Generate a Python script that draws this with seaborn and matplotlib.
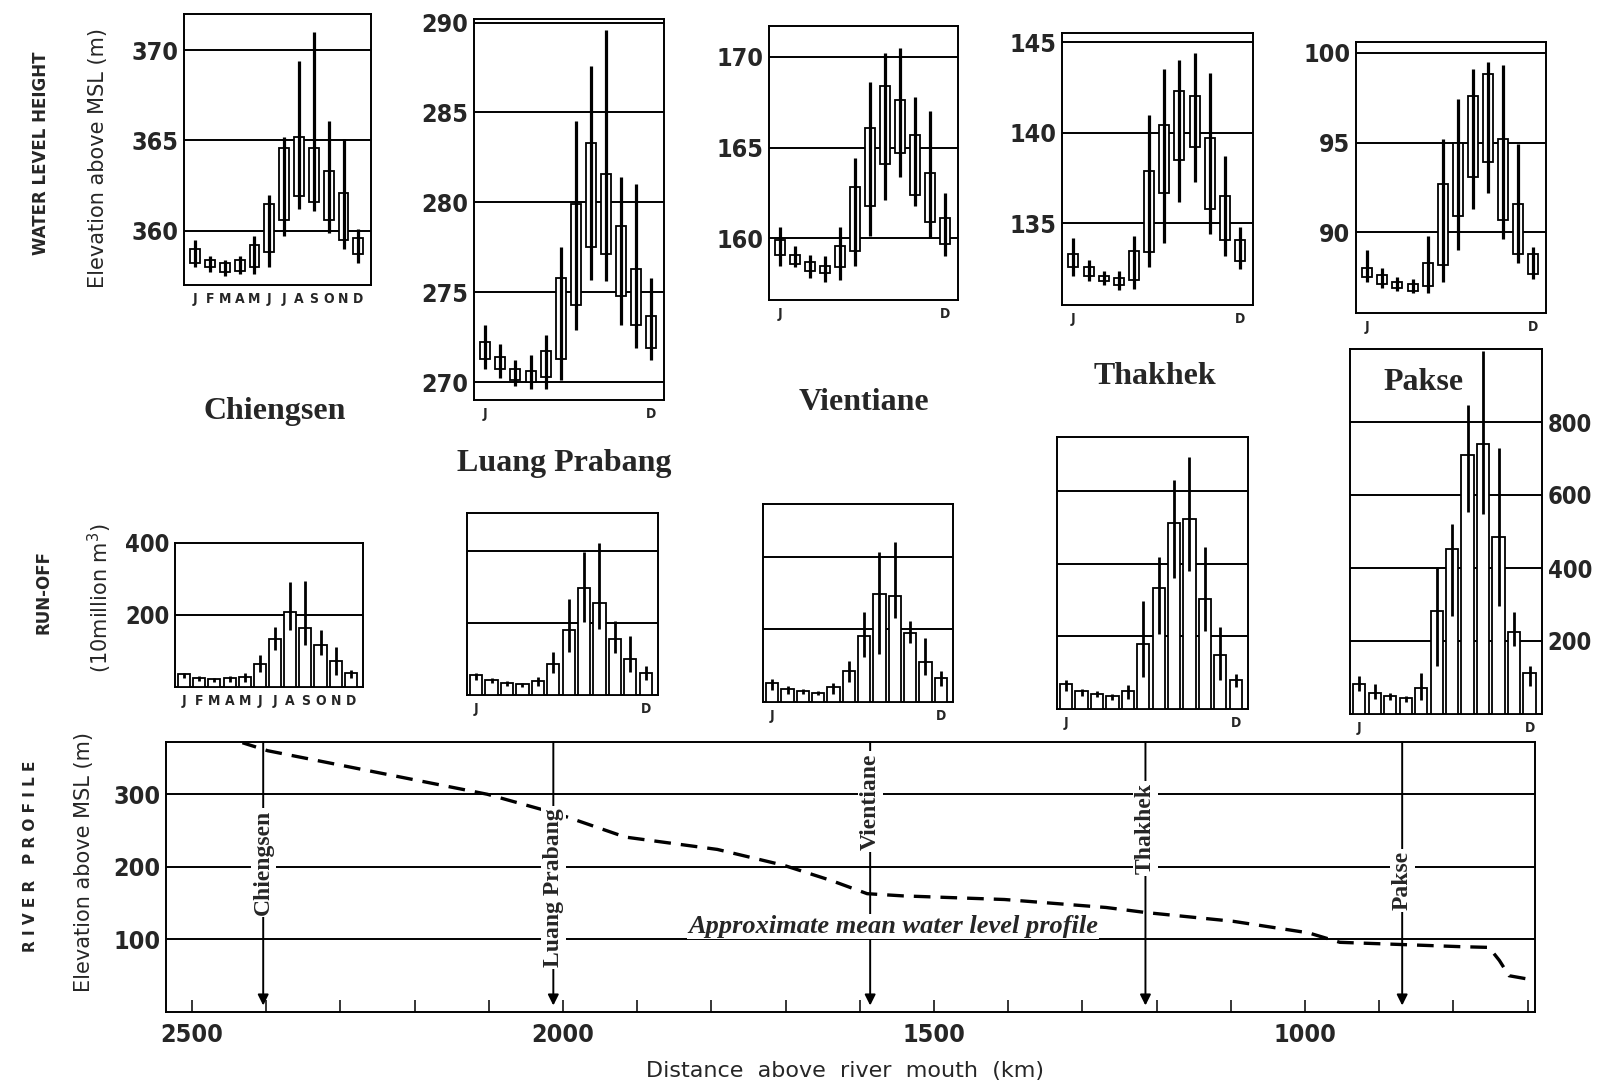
import matplotlib
matplotlib.use("Agg")
import matplotlib.pyplot as plt
import numpy as np
import pandas as pd
import seaborn as sns

months = ["J", "F", "M", "A", "M", "J", "J", "A", "S", "O", "N", "D"]
stations = ["Chiengsen", "Luang Prabang", "Vientiane", "Thakhek", "Pakse"]

# water level (m above MSL): box low/high and whisker min/max per month
chiengsen_box_lo = [358.2, 358.0, 357.7, 357.8, 358.0, 358.8, 360.6, 361.9, 361.6, 360.6, 359.5, 358.7]
chiengsen_box_hi = [359.0, 358.4, 358.2, 358.4, 359.2, 361.5, 364.6, 365.2, 364.6, 363.3, 362.1, 359.6]
chiengsen_min = [358.0, 357.7, 357.5, 357.6, 357.6, 358.0, 359.7, 361.2, 361.1, 359.9, 359.0, 358.2]
chiengsen_max = [359.5, 358.6, 358.4, 358.6, 359.7, 362.0, 365.2, 369.4, 371.0, 366.1, 365.1, 360.1]

luang_box_lo = [271.3, 270.7, 270.1, 270.0, 270.3, 271.3, 274.3, 277.5, 277.1, 274.8, 273.2, 271.9]
luang_box_hi = [272.2, 271.4, 270.7, 270.6, 271.7, 275.8, 279.9, 283.3, 281.6, 278.7, 276.3, 273.7]
luang_min = [270.7, 270.2, 269.8, 269.6, 269.6, 270.1, 272.9, 275.7, 275.6, 273.2, 271.9, 271.2]
luang_max = [273.2, 272.1, 271.2, 271.5, 272.6, 277.5, 284.5, 287.6, 289.6, 281.4, 281.0, 275.8]

vientiane_box_lo = [159.1, 158.6, 158.2, 158.1, 158.4, 159.3, 161.8, 164.1, 164.7, 162.4, 160.9, 159.7]
vientiane_box_hi = [159.9, 159.1, 158.7, 158.5, 159.6, 162.8, 166.1, 168.4, 167.6, 165.7, 163.6, 161.1]
vientiane_min = [158.5, 158.4, 157.8, 157.6, 157.7, 158.5, 160.1, 162.1, 163.4, 161.8, 160.0, 159.0]
vientiane_max = [160.6, 159.6, 159.1, 159.0, 160.6, 164.4, 168.6, 170.2, 170.5, 167.8, 167.0, 162.5]

thakhek_box_lo = [132.6, 132.1, 131.8, 131.6, 131.9, 133.4, 136.7, 138.5, 139.2, 135.8, 134.1, 132.9]
thakhek_box_hi = [133.3, 132.6, 132.1, 132.0, 133.5, 137.9, 140.4, 142.3, 142.0, 139.7, 136.5, 134.1]
thakhek_min = [132.1, 131.8, 131.6, 131.3, 131.4, 132.6, 133.9, 136.2, 137.3, 134.4, 133.2, 132.5]
thakhek_max = [134.2, 133.0, 132.4, 132.4, 134.3, 141.0, 143.5, 144.0, 144.4, 143.3, 138.7, 134.8]

pakse_box_lo = [87.5, 87.1, 86.9, 86.7, 87.0, 88.2, 90.9, 93.1, 93.9, 90.7, 88.8, 87.7]
pakse_box_hi = [88.0, 87.6, 87.2, 87.1, 88.3, 92.7, 95.0, 97.6, 98.8, 95.2, 91.6, 88.8]
pakse_min = [87.2, 86.9, 86.7, 86.6, 86.6, 87.2, 89.0, 91.3, 92.2, 89.6, 88.3, 87.4]
pakse_max = [89.0, 88.0, 87.5, 87.4, 89.8, 95.2, 97.4, 99.1, 99.5, 99.3, 94.9, 89.2]

# run-off (10 million m3): mean bar and whisker range
chiengsen_ro = [35, 26, 21, 24, 28, 64, 134, 207, 163, 117, 72, 38]
chiengsen_ro_lo = [24, 17, 15, 15, 15, 42, 102, 157, 117, 90, 33, 24]
chiengsen_ro_hi = [40, 31, 26, 31, 38, 88, 166, 292, 294, 157, 111, 47]

luang_ro = [56, 42, 34, 31, 39, 86, 181, 298, 256, 155, 100, 60]
luang_ro_lo = [42, 33, 25, 23, 25, 62, 118, 202, 183, 116, 65, 42]
luang_ro_hi = [62, 47, 40, 34, 49, 118, 265, 397, 423, 205, 165, 81]

vientiane_ro = [53, 37, 31, 25, 40, 86, 183, 298, 293, 189, 109, 65]
vientiane_ro_lo = [34, 23, 21, 19, 23, 56, 124, 133, 230, 163, 74, 44]
vientiane_ro_hi = [62, 44, 37, 31, 51, 112, 248, 412, 440, 223, 177, 86]

thakhek_ro = [70, 49, 42, 37, 49, 180, 333, 514, 523, 303, 149, 81]
thakhek_ro_lo = [49, 37, 33, 26, 28, 88, 207, 360, 381, 214, 81, 62]
thakhek_ro_hi = [79, 55, 49, 42, 67, 299, 418, 631, 695, 448, 226, 97]

pakse_ro = [82, 58, 49, 43, 71, 281, 451, 710, 740, 485, 225, 112]
pakse_ro_lo = [62, 42, 37, 34, 37, 132, 268, 553, 548, 297, 186, 78]
pakse_ro_hi = [103, 82, 58, 49, 112, 399, 521, 847, 995, 728, 279, 132]

# river profile
profile_km = [2432, 2398, 2102, 2004, 1916, 1792, 1702, 1638, 1590, 1542, 1405, 1268,
              1214, 1097, 995, 953, 871, 790, 752, 738, 725, 703]
profile_elev = [371, 360, 300, 272, 241, 224, 202, 181, 163, 160, 155, 144,
                137, 125, 109, 96, 93, 90, 89, 71, 50, 46]
station_km = [2404, 2013, 1586, 1215, 869]
station_label_elev = [206, 172, 290, 253, 181]

sns.set_theme(style="white")
plt.rcParams['font.family'] = ['DejaVu Sans']
SERIF = ['Liberation Serif', 'DejaVu Serif']

W, H = 1599, 1092
fig = plt.figure(figsize=(W / 100, H / 100), dpi=100)


def rect(x0, y0, x1, y1):
    return [x0 / W, 1 - y1 / H, (x1 - x0) / W, (y1 - y0) / H]


def frame(ax):
    for s in ax.spines.values():
        s.set_visible(True)
        s.set_color("black")
        s.set_linewidth(1.4)


def style_labels(labels, size):
    for t in labels:
        t.set_fontweight("bold")
        t.set_fontstretch("condensed")
        t.set_fontsize(size)


def month_ticks(ax, full):
    if full:
        ax.set_xticks(range(12))
        ax.set_xticklabels(months)
    else:
        ax.set_xticks([0, 11])
        ax.set_xticklabels(["J", "D"])
    ax.tick_params(axis="x", length=0, pad=5)
    style_labels(ax.get_xticklabels(), 10)


def water_panel(r, lo, hi, wmin, wmax, ylim, yticks, full):
    ax = fig.add_axes(r)
    frame(ax)
    x = np.arange(12)
    for t in yticks:
        ax.axhline(t, color="black", lw=1.4, zorder=1)
    ax.bar(x, np.subtract(hi, lo), bottom=lo, width=0.66, color="white",
           edgecolor="black", linewidth=1.3, zorder=3)
    ax.vlines(x, wmin, wmax, color="black", lw=2.3, zorder=4)
    ax.set_xlim(-0.75, 11.85)
    ax.set_ylim(*ylim)
    ax.set_yticks(yticks)
    ax.set_yticklabels([str(t) for t in yticks])
    style_labels(ax.get_yticklabels(), 18)
    ax.tick_params(axis="y", length=0, pad=4)
    month_ticks(ax, full)
    return ax


def runoff_panel(r, mean, lo, hi, ytop, full, labels=None, right=False):
    ax = fig.add_axes(r)
    frame(ax)
    for t in range(200, ytop, 200):
        ax.axhline(t, color="black", lw=1.4, zorder=1)
    df = pd.DataFrame({"month": np.arange(12), "runoff": mean})
    sns.barplot(data=df, x="month", y="runoff", color="white", saturation=1,
                edgecolor="black", linewidth=1.3, width=0.8, errorbar=None,
                ax=ax, zorder=3)
    ax.vlines(np.arange(12), lo, hi, color="black", lw=2.0, zorder=4)
    ax.set_xlabel("")
    ax.set_ylabel("")
    ax.set_xlim(-0.6, 11.8)
    ax.set_ylim(0, ytop)
    if labels:
        if right:
            ax.yaxis.tick_right()
        ax.set_yticks(labels)
        ax.set_yticklabels([str(t) for t in labels])
        for tk in ax.yaxis.get_major_ticks():
            style_labels([tk.label1, tk.label2], 17)
    else:
        ax.set_yticks([])
    ax.tick_params(axis="y", length=0, pad=4)
    month_ticks(ax, full)
    return ax


water_panel(rect(184, 14, 371, 285), chiengsen_box_lo, chiengsen_box_hi, chiengsen_min,
            chiengsen_max, (357.0, 372.0), [360, 365, 370], True)
water_panel(rect(474, 19, 664, 400), luang_box_lo, luang_box_hi, luang_min,
            luang_max, (269.0, 290.2), [270, 275, 280, 285, 290], False)
water_panel(rect(769, 26, 958, 300), vientiane_box_lo, vientiane_box_hi, vientiane_min,
            vientiane_max, (156.6, 171.7), [160, 165, 170], False)
water_panel(rect(1062, 33, 1253, 305), thakhek_box_lo, thakhek_box_hi, thakhek_min,
            thakhek_max, (130.5, 145.5), [135, 140, 145], False)
water_panel(rect(1356, 42, 1546, 313), pakse_box_lo, pakse_box_hi, pakse_min,
            pakse_max, (85.5, 100.6), [90, 95, 100], False)

runoff_panel(rect(175, 543, 363, 687), chiengsen_ro, chiengsen_ro_lo, chiengsen_ro_hi,
             400, True, labels=[200, 400])
runoff_panel(rect(467, 513, 658, 695), luang_ro, luang_ro_lo, luang_ro_hi, 505, False)
runoff_panel(rect(763, 504, 953, 702), vientiane_ro, vientiane_ro_lo, vientiane_ro_hi, 545, False)
runoff_panel(rect(1057, 437, 1248, 709), thakhek_ro, thakhek_ro_lo, thakhek_ro_hi, 750, False)
runoff_panel(rect(1350, 349, 1542, 714), pakse_ro, pakse_ro_lo, pakse_ro_hi, 1000, False,
             labels=[200, 400, 600, 800], right=True)

# station names
title_pos = [(275, 412), (564, 464), (864, 403), (1155, 377), (1424, 383)]
for name, (tx, ty) in zip(stations, title_pos):
    fig.text(tx / W, 1 - ty / H, name, family=SERIF, fontweight="bold", fontsize=23,
             ha="center", va="center", zorder=10)

# river profile
ax = fig.add_axes(rect(166, 742, 1535, 1012))
frame(ax)
for t in [100, 200, 300]:
    ax.axhline(t, color="black", lw=1.4, zorder=1)
sns.lineplot(x=profile_km, y=profile_elev, ax=ax, color="black", lw=2.4, zorder=3)
ax.lines[-1].set_dashes([5, 3])
ax.set_xlim(2535, 690)
ax.set_ylim(0, 372)
ax.set_xticks([2500, 2000, 1500, 1000])
ax.set_xticklabels(["2500", "2000", "1500", "1000"])
style_labels(ax.get_xticklabels(), 18)
ax.set_xticks(np.arange(700, 2600, 100), minor=True)
ax.tick_params(axis="x", which="both", direction="in", length=9, width=1.3,
               bottom=True, pad=8)
ax.set_yticks([100, 200, 300])
ax.set_yticklabels(["100", "200", "300"])
style_labels(ax.get_yticklabels(), 18)
ax.tick_params(axis="y", length=0, pad=4)
ax.set_xlabel("")
ax.set_ylabel("")

for km, ly, name in zip(station_km, station_label_elev, stations):
    ax.annotate("", xy=(km, 9), xytext=(km, 372),
                arrowprops=dict(arrowstyle="-|>", color="black", lw=1.4,
                                mutation_scale=16, shrinkA=0, shrinkB=0), zorder=4)
    ax.text(km, ly, name, rotation=90, ha="center", va="center", family=SERIF,
            fontweight="bold", fontsize=17, zorder=6,
            bbox=dict(facecolor="white", edgecolor="none", pad=1.5))

ax.text(1555, 118, "Approximate mean water level profile", family=SERIF, style="italic",
        fontweight="bold", fontsize=19, ha="center", va="center", zorder=6,
        bbox=dict(facecolor="white", edgecolor="none", pad=1))

# side labels
side = [
    (41, 153, "WATER LEVEL HEIGHT", 12, "bold"),
    (98, 158, "Elevation above MSL (m)", 15, "normal"),
    (43, 592, "RUN-OFF", 12, "bold"),
    (100, 598, "(10million m$^3$)", 15, "normal"),
    (31, 856, "R I V E R   P R O F I L E", 11, "bold"),
    (84, 862, "Elevation above MSL (m)", 15, "normal"),
]
for sx, sy, txt, fs, fw in side:
    fig.text(sx / W, 1 - sy / H, txt, rotation=90, ha="center", va="center",
             fontsize=fs, fontweight=fw)

fig.text(845 / W, 1 - 1071 / H, "Distance  above  river  mouth  (km)", ha="center",
         va="center", fontsize=16)

fig.savefig("out.png", dpi=100)
